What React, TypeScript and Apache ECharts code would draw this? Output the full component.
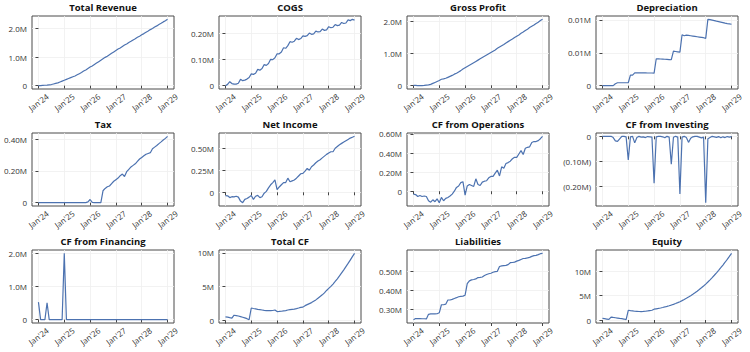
import React, { useEffect, useRef } from "react";
import * as echarts from "echarts";

// ---- X axis (monthly, Jan'24 .. Jan'29, month index 0..60) ----
const xTickValues = [0, 12, 24, 36, 48, 60];
const xTickLabels = ["Jan'24", "Jan'25", "Jan'26", "Jan'27", "Jan'28", "Jan'29"];

// ---- Series values (in millions) ----
const totalRevenue = [
  0.0, 0.005, 0.01, 0.015, 0.02, 0.03, 0.04, 0.06, 0.08, 0.1, 0.13, 0.16,
  0.19, 0.22, 0.25, 0.28, 0.31, 0.34, 0.38, 0.42, 0.46, 0.51, 0.55, 0.6,
  0.65, 0.69, 0.74, 0.79, 0.84, 0.89, 0.94, 0.99, 1.03, 1.08, 1.13, 1.18,
  1.23, 1.28, 1.32, 1.37, 1.42, 1.46, 1.51, 1.55, 1.6, 1.64, 1.69, 1.73,
  1.78, 1.82, 1.87, 1.91, 1.96, 2.0, 2.05, 2.09, 2.14, 2.18, 2.23, 2.27,
  2.32,
];
const cogs = [
  0, 0.005, 0.015, 0.008, 0.006, 0.006, 0.009, 0.024, 0.019, 0.021, 0.025, 0.031,
  0.045, 0.043, 0.047, 0.062, 0.059, 0.065, 0.08, 0.077, 0.084, 0.1, 0.099, 0.106,
  0.121, 0.121, 0.128, 0.144, 0.142, 0.152, 0.167, 0.165, 0.169, 0.18, 0.175, 0.179,
  0.189, 0.187, 0.19, 0.2, 0.195, 0.197, 0.207, 0.204, 0.205, 0.215, 0.21, 0.212,
  0.224, 0.22, 0.222, 0.232, 0.228, 0.23, 0.24, 0.236, 0.238, 0.25, 0.247, 0.252,
  0.249,
];
const grossProfit = [
  0, -0.005, -0.01, -0.012, -0.01, -0.005, 0.005, 0.015, 0.03, 0.06, 0.09, 0.12,
  0.15, 0.19, 0.2, 0.22, 0.25, 0.28, 0.31, 0.35, 0.38, 0.42, 0.46, 0.51,
  0.55, 0.59, 0.63, 0.67, 0.71, 0.75, 0.79, 0.83, 0.87, 0.91, 0.95, 0.99,
  1.03, 1.07, 1.11, 1.16, 1.2, 1.24, 1.28, 1.33, 1.37, 1.41, 1.45, 1.5,
  1.54, 1.58, 1.63, 1.67, 1.72, 1.76, 1.81, 1.85, 1.89, 1.94, 1.98, 2.03,
  2.07,
];
const depreciation = [
  0, 0, 0, 0, 0, 0, 0.0003, 0.00045, 0.00045, 0.00045, 0.00045, 0.00045,
  0.00045, 0.0016, 0.0016, 0.00195, 0.00195, 0.00195, 0.00194, 0.00194, 0.00194, 0.00193, 0.00193, 0.00193,
  0.00192, 0.0041, 0.00408, 0.00406, 0.00404, 0.00402, 0.004, 0.00398, 0.00395, 0.00525, 0.0052, 0.00515,
  0.0051, 0.00775, 0.0076, 0.0077, 0.00765, 0.0076, 0.00755, 0.0075, 0.00745, 0.0074, 0.00735, 0.0073,
  0.0072, 0.0101, 0.01005, 0.00998, 0.0099, 0.00982, 0.00975, 0.00968, 0.0096, 0.00952, 0.00945, 0.0094,
  0.00935,
];
const tax = [
  0, 0, 0, 0, 0, 0, 0, 0, 0, 0, 0, 0,
  0, 0, 0, 0, 0, 0, 0, 0, 0, 0, 0, 0.005,
  0.02, 0.002, 0, 0, 0, 0, 0.075, 0.09, 0.1, 0.105, 0.12, 0.135,
  0.145, 0.155, 0.17, 0.18, 0.165, 0.195, 0.21, 0.225, 0.235, 0.245, 0.26, 0.275,
  0.285, 0.295, 0.305, 0.31, 0.315, 0.34, 0.35, 0.36, 0.372, 0.383, 0.395, 0.405,
  0.418,
];
const netIncome = [
  -0.037, -0.04, -0.06, -0.05, -0.052, -0.045, -0.055, -0.1, -0.118, -0.08, -0.07, -0.055,
  -0.037, -0.08, -0.045, -0.035, -0.06, -0.05, -0.01, 0.01, 0.05, 0.085, 0.11, 0.14,
  0.03, 0.06, 0.085, 0.11, 0.11, 0.16, 0.12, 0.13, 0.14, 0.16, 0.185, 0.21,
  0.215, 0.24, 0.27, 0.25, 0.29, 0.31, 0.335, 0.355, 0.37, 0.39, 0.41, 0.43,
  0.445, 0.46, 0.46, 0.5, 0.52, 0.54, 0.555, 0.57, 0.585, 0.6, 0.615, 0.625,
  0.635,
];
const cfOperations = [
  -0.03, -0.035, -0.055, -0.045, -0.055, -0.05, -0.055, -0.1, -0.115, -0.09, -0.11, -0.08,
  -0.12, -0.065, -0.1, -0.075, -0.065, -0.05, -0.03, 0.0, 0.04, 0.055, 0.09, 0.1,
  -0.04, 0.055, 0.07, 0.06, 0.05, 0.13, 0.07, 0.06, 0.095, 0.105, 0.11, 0.14,
  0.155, 0.155, 0.19, 0.22, 0.16, 0.255, 0.24, 0.29, 0.3, 0.315, 0.34, 0.355,
  0.355, 0.39, 0.425, 0.385, 0.45, 0.46, 0.465, 0.51, 0.52, 0.52, 0.53, 0.55,
  0.575,
];
const cfInvesting = [
  0, 0, 0, 0, 0, -0.005, -0.018, -0.02, -0.01, 0, 0, -0.002,
  -0.094, -0.002, 0, -0.026, -0.005, 0, -0.003, -0.002, -0.005, -0.001, -0.002, -0.003,
  -0.187, -0.002, 0, 0, -0.002, -0.006, 0, -0.003, -0.111, -0.004, 0, -0.003,
  -0.229, -0.003, 0, -0.005, -0.024, -0.008, -0.002, 0, 0, -0.003, -0.006, -0.003,
  -0.264, -0.01, -0.005, 0, -0.002, -0.004, -0.001, -0.006, -0.002, -0.005, -0.001, -0.003,
  -0.001,
];
const cfFinancing = [
  0.53, 0, 0, 0, 0.51, 0, 0, 0, 0, 0, 0, 0,
  2.0, 0, 0, 0, 0, 0, 0, 0, 0, 0, 0, 0,
  0, 0, 0, 0, 0, 0, 0, 0, 0, 0, 0, 0,
  0, 0, 0, 0, 0, 0, 0, 0, 0, 0, 0, 0,
  0, 0, 0, 0, 0, 0, 0, 0, 0, 0, 0, 0,
  0,
];
const totalCF = [
  0.53, 0.49, 0.42, 0.36, 0.78, 0.73, 0.66, 0.57, 0.48, 0.38, 0.27, 0.12,
  1.85, 1.78, 1.72, 1.65, 1.6, 1.55, 1.5, 1.47, 1.45, 1.45, 1.48, 1.55,
  1.32, 1.34, 1.37, 1.42, 1.47, 1.55, 1.6, 1.65, 1.68, 1.76, 1.85, 1.95,
  1.98, 2.2, 2.35, 2.5, 2.65, 2.85, 3.05, 3.3, 3.55, 3.8, 4.1, 4.45,
  4.75, 5.05, 5.4, 5.78, 6.18, 6.6, 7.05, 7.5, 7.98, 8.45, 8.95, 9.45,
  9.95,
];
const liabilities = [
  0.247, 0.253, 0.253, 0.253, 0.252, 0.252, 0.251, 0.275, 0.277, 0.277, 0.277, 0.278,
  0.283, 0.325, 0.325, 0.328, 0.35, 0.35, 0.353, 0.358, 0.362, 0.367, 0.369, 0.37,
  0.375, 0.435, 0.45, 0.455, 0.457, 0.46, 0.467, 0.468, 0.47, 0.478, 0.483, 0.487,
  0.49, 0.495, 0.498, 0.5, 0.525, 0.528, 0.53, 0.531, 0.535, 0.545, 0.546, 0.548,
  0.553, 0.557, 0.562, 0.567, 0.568, 0.57, 0.573, 0.578, 0.582, 0.583, 0.587, 0.592,
  0.594,
];
const equity = [
  0.33, 0.27, 0.2, 0.13, 0.6, 0.53, 0.47, 0.4, 0.33, 0.27, 0.2, 0.07,
  2.0, 1.93, 1.87, 1.8, 1.78, 1.75, 1.74, 1.76, 1.8, 1.86, 1.93, 2.0,
  2.22, 2.3, 2.38, 2.47, 2.57, 2.68, 2.8, 2.93, 3.07, 3.22, 3.38, 3.56,
  3.76, 3.98, 4.21, 4.46, 4.72, 5.0, 5.29, 5.6, 5.92, 6.26, 6.61, 6.98,
  7.36, 7.79, 8.24, 8.7, 9.18, 9.68, 10.2, 10.73, 11.28, 11.85, 12.44, 13.05,
  13.68,
];

// ---- Y tick values / labels (millions) ----
const yTicksM2 = [0, 1, 2];
const yLabelsM2 = ["0", "1.0M", "2.0M"];
const yTicksCogs = [0, 0.1, 0.2];
const yLabelsCogs = ["0", "0.10M", "0.20M"];
const yTicksDep = [0, 0.005, 0.01];
const yLabelsDep = ["0", "0.01M", "0.01M"];
const yTicksTax = [0, 0.2, 0.4];
const yLabelsTax = ["0", "0.20M", "0.40M"];
const yTicksNI = [0, 0.25, 0.5];
const yLabelsNI = ["0", "0.25M", "0.50M"];
const yTicksCFO = [0, 0.2, 0.4, 0.6];
const yLabelsCFO = ["0", "0.20M", "0.40M", "0.60M"];
const yTicksCFI = [-0.2, -0.1, 0];
const yLabelsCFI = ["(0.20M)", "(0.10M)", "0"];
const yTicksM10 = [0, 5, 10];
const yLabelsM10 = ["0", "5M", "10M"];
const yTicksLiab = [0.3, 0.4, 0.5];
const yLabelsLiab = ["0.30M", "0.40M", "0.50M"];

const panels = [
  { title: "Total Revenue", data: totalRevenue, ticks: yTicksM2, labels: yLabelsM2 },
  { title: "COGS", data: cogs, ticks: yTicksCogs, labels: yLabelsCogs },
  { title: "Gross Profit", data: grossProfit, ticks: yTicksM2, labels: yLabelsM2 },
  { title: "Depreciation", data: depreciation, ticks: yTicksDep, labels: yLabelsDep },
  { title: "Tax", data: tax, ticks: yTicksTax, labels: yLabelsTax },
  { title: "Net Income", data: netIncome, ticks: yTicksNI, labels: yLabelsNI },
  { title: "CF from Operations", data: cfOperations, ticks: yTicksCFO, labels: yLabelsCFO },
  { title: "CF from Investing", data: cfInvesting, ticks: yTicksCFI, labels: yLabelsCFI },
  { title: "CF from Financing", data: cfFinancing, ticks: yTicksM2, labels: yLabelsM2 },
  { title: "Total CF", data: totalCF, ticks: yTicksM10, labels: yLabelsM10 },
  { title: "Liabilities", data: liabilities, ticks: yTicksLiab, labels: yLabelsLiab },
  { title: "Equity", data: equity, ticks: yTicksM10, labels: yLabelsM10 },
];

const colLefts = [32, 219, 407, 596];
const rowTops = [16, 133, 250];
const plotW = 142;
const plotH = 73;
const FONT = "'Open Sans', 'Noto Sans', sans-serif";
const LINE = "#4C72B0";

export default function App() {
  const ref = useRef<HTMLDivElement>(null);
  useEffect(() => {
    document.body.style.margin = "0";
    const chart = echarts.init(ref.current!, null, { renderer: "svg" });
    const grid: any[] = [];
    const xAxis: any[] = [];
    const yAxis: any[] = [];
    const series: any[] = [];
    const title: any[] = [];
    panels.forEach((p, i) => {
      const col = i % 4;
      const row = Math.floor(i / 4);
      const left = colLefts[col];
      const top = rowTops[row];
      const lo = Math.min(...p.data);
      const hi = Math.max(...p.data);
      const pad = (hi - lo) * 0.05;
      grid.push({
        left, top, width: plotW, height: plotH,
        show: true, borderColor: "#4a4a4a", borderWidth: 1, backgroundColor: "#fff",
        containLabel: false, outerBoundsMode: "none",
      });
      title.push({
        text: p.title, left: left + plotW / 2, top: top - 13.5, textAlign: "center", padding: 0,
        textStyle: { fontFamily: FONT, fontSize: 9.5, fontWeight: "bold", color: "#111" },
      });
      xAxis.push({
        type: "value", gridIndex: i, min: -3, max: 63,
        axisLine: { show: false },
        axisTick: { show: true, length: 3, customValues: xTickValues, lineStyle: { color: "#444" } },
        axisLabel: {
          customValues: xTickValues,
          formatter: (v: number) => xTickLabels[xTickValues.indexOf(v)] ?? "",
          rotate: 37, align: "center", verticalAlign: "middle", margin: 13,
          fontSize: 8, color: "#333", fontFamily: FONT,
        },
        splitLine: { show: true, lineStyle: { color: "#efefef", width: 0.8 } },
      });
      yAxis.push({
        type: "value", gridIndex: i, min: lo - pad, max: hi + pad,
        axisLine: { show: false },
        axisTick: { show: true, length: 3, customValues: p.ticks, lineStyle: { color: "#444" } },
        axisLabel: {
          customValues: p.ticks,
          formatter: (v: number) => {
            let k = -1;
            p.ticks.forEach((t, j) => { if (Math.abs(t - v) < 1e-9) k = j; });
            return k >= 0 ? p.labels[k] : "";
          },
          margin: 5, fontSize: 8, color: "#333", fontFamily: FONT,
        },
        splitLine: { show: true, lineStyle: { color: "#efefef", width: 0.8 } },
      });
      series.push({
        type: "line", xAxisIndex: i, yAxisIndex: i,
        data: p.data.map((v, k) => [k, v]),
        showSymbol: false, symbol: "none", silent: true,
        lineStyle: { color: LINE, width: 1.2 }, itemStyle: { color: LINE },
      });
    });
    chart.setOption({ animation: false, backgroundColor: "#fff", title, grid, xAxis, yAxis, series });
    return () => chart.dispose();
  }, []);
  return <div ref={ref} style={{ width: 750, height: 352 }} />;
}
